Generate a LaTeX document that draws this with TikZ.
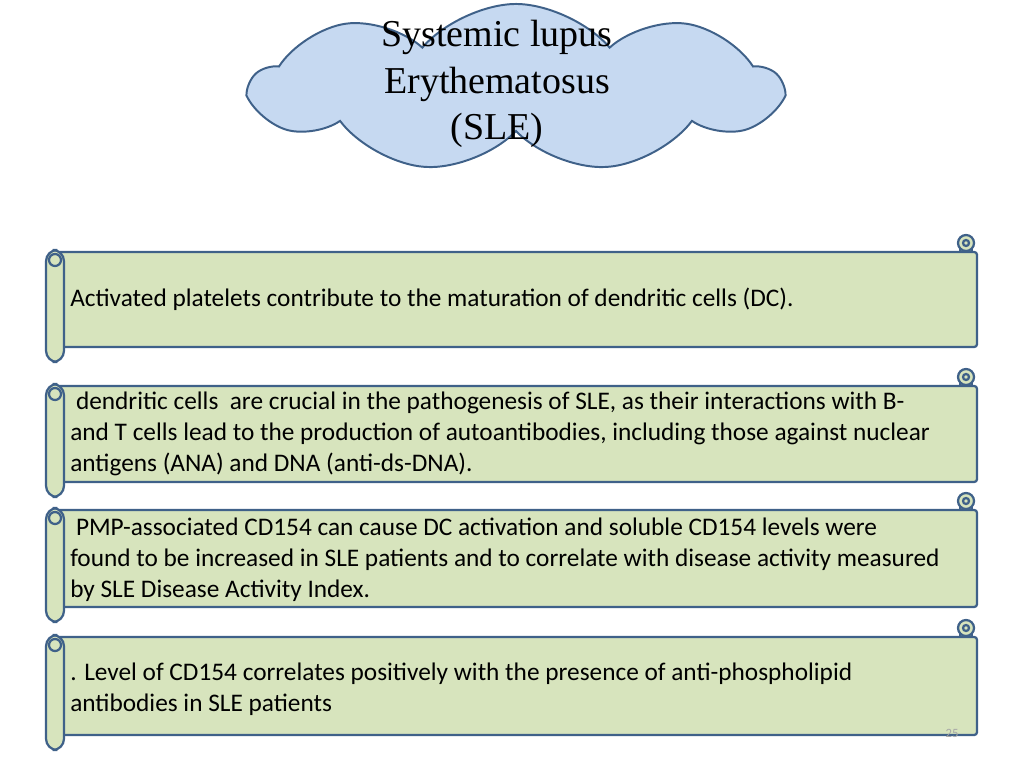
\documentclass[tikz,border=0pt]{standalone}
\usepackage{fontspec}
\setmainfont{Carlito}
\newfontfamily\titlefont{Liberation Serif}
\usetikzlibrary{positioning, shapes.symbols}
\definecolor{scrollfill}{HTML}{D7E4BD}
\definecolor{scrolldraw}{HTML}{3F6189}
\definecolor{cloudfill}{HTML}{C6D9F1}
\definecolor{clouddraw}{HTML}{3F6189}

% scroll: #1 name, #2 top, #3 bottom
\newcommand{\scrollbox}[3]{%
  \draw[scrollpart, rounded corners=2] (55,#2) rectangle (977,#3);
  \draw[scrollpart, rounded corners=8] (46,#2-2) rectangle (64,#3+15);
  \draw[scrollpart] (55,#2+8) circle (6);
  \draw[scrollpart] (960,#2-8) rectangle (972,#2);
  \draw[scrollpart] (966,#2-9) circle (8);
  \draw[scrollpart] (966,#2-9) circle (3);
  \coordinate (#1) at (70,{(#2+#3)/2});
}

\begin{document}
\begin{tikzpicture}[
    x=0.025cm, y=-0.025cm,
    scrollpart/.style={fill=scrollfill, draw=scrolldraw, line width=1.6pt},
    cloudnode/.style={cloud, cloud puffs=9, cloud puff arc=100, aspect=2.6, draw=clouddraw, fill=cloudfill, line width=1.4pt, minimum width=13.2cm, minimum height=4.2cm},
    title/.style={font=\titlefont\fontsize{27}{33}\selectfont, align=center},
    body/.style={anchor=west, font=\fontsize{18}{22}\selectfont, align=left, inner sep=0pt}
]
\useasboundingbox (0,0) rectangle (1024,768);

% --- Cloud
\node[cloudnode] (cloud) at (516,88) {};
\node[title] (titletext) at (497,84) {Systemic lupus\\Erythematosus\\(SLE)};

% --- Scrolls
\scrollbox{s1}{252}{347}
\scrollbox{s2}{386}{482}
\scrollbox{s3}{510}{607}
\scrollbox{s4}{637}{735}

\node[body] (t1) at (s1) {Activated platelets contribute to the maturation of dendritic cells (DC).};
\node[body] (t2) at (s2) {\ dendritic cells\ \ are crucial in the pathogenesis of SLE, as their interactions with B-\\and T cells lead to the production of autoantibodies, including those against nuclear\\antigens (ANA) and DNA (anti-ds-DNA).};
\node[body] (t3) at ([yshift=-1]s3) {\ PMP-associated CD154 can cause DC activation and soluble CD154 levels were\\found to be increased in SLE patients and to correlate with disease activity measured\\by SLE Disease Activity Index.};
\node[body] (t4) at ([yshift=-2]s4) {. Level of CD154 correlates positively with the presence of anti-phospholipid\\antibodies in SLE patients};

\node[font=\small, text=black!35] (page) at (952,733) {25};
\end{tikzpicture}
\end{document}
